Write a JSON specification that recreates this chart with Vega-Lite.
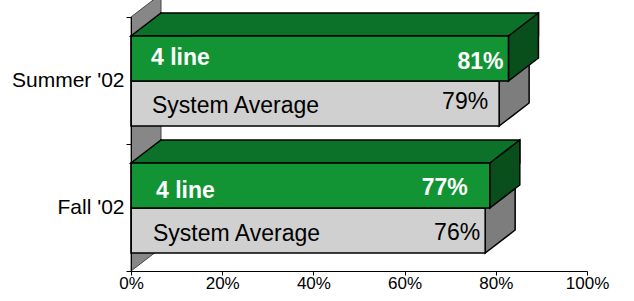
{
  "$schema": "https://vega.github.io/schema/vega-lite/v6.json",
  "width": 456,
  "height": 254,
  "autosize": {"type": "none"},
  "padding": {"left": 131, "top": 17, "right": 47, "bottom": 30},
  "background": "#ffffff",
  "config": {"view": {"stroke": null}, "font": "Liberation Sans"},
  "data": {"values": [
    {"period": "Summer '02", "series": "4 line", "value": 0.81},
    {"period": "Summer '02", "series": "System Average", "value": 0.79},
    {"period": "Fall '02", "series": "4 line", "value": 0.77},
    {"period": "Fall '02", "series": "System Average", "value": 0.76}
  ]},
  "encoding": {
    "y": {
      "field": "period", "type": "nominal",
      "scale": {"domain": ["Summer '02", "Fall '02"], "paddingInner": 0, "paddingOuter": 0},
      "axis": {"title": null, "tickBand": "extent", "tickSize": 5, "tickColor": "#000", "tickWidth": 1, "domainColor": "#000", "domainWidth": 1, "labelColor": "#000", "labelFontSize": 21, "labelPadding": 2, "labelFont": "Liberation Sans", "zindex": 1}
    }
  },
  "resolve": {"scale": {"x": "independent"}},
  "layer": [
    {
      "transform": [{"filter": {"and": [{"field": "period", "equal": "Fall '02"}, {"field": "series", "equal": "System Average"}]}}],
      "mark": {"type": "point", "shape": "M0,0 L0,-254 L30,-277 L30,-23 Z", "size": 4, "filled": true, "fill": "#878787", "stroke": "#444444", "strokeWidth": 1, "opacity": 1, "yOffset": 63.5},
      "encoding": {
        "x": {"datum": 0, "type": "quantitative", "scale": {"domain": [0, 1]},
          "axis": {"title": null, "format": ".0%", "values": [0, 0.2, 0.4, 0.6, 0.8, 1], "grid": false, "tickSize": 4, "tickColor": "#000", "domainColor": "#000", "labelColor": "#000", "labelFontSize": 17, "labelPadding": 0, "labelFont": "Liberation Sans", "labelFlush": false, "zindex": 1}}
      }
    },
    {
      "encoding": {"x": {"field": "value", "type": "quantitative", "scale": {"domain": [0, 1], "range": [0, 466]}, "axis": null}},
      "layer": [
        {
          "transform": [{"filter": {"field": "series", "equal": "System Average"}}],
          "mark": {"type": "point", "shape": "M0,0 L30,-23 L30,22 L0,45 Z", "size": 4, "filled": true, "fill": "#7d7d7d", "stroke": "#000", "strokeWidth": 1.5, "opacity": 1, "yOffset": 0.5}
        },
        {
          "transform": [{"filter": {"field": "series", "equal": "System Average"}}],
          "mark": {"type": "bar", "height": 45, "yOffset": 23, "fill": "#d0d0d0", "stroke": "#000", "strokeWidth": 1.5}
        },
        {
          "transform": [{"filter": {"field": "series", "equal": "4 line"}}],
          "mark": {"type": "bar", "height": 23, "yOffset": -56, "xOffset": 30, "x2Offset": 30, "fill": "#0d7229", "stroke": "#000", "strokeWidth": 1.5}
        },
        {
          "transform": [{"filter": {"field": "series", "equal": "4 line"}}],
          "mark": {"type": "point", "shape": "M31,0 L0,0 L30,-23 L31,-23", "size": 4, "filled": true, "fill": "#0d7229", "stroke": "#000", "strokeWidth": 1.5, "opacity": 1, "yOffset": -44.5},
          "encoding": {"x": {"datum": 0, "type": "quantitative"}}
        },
        {
          "transform": [{"filter": {"field": "series", "equal": "4 line"}}],
          "mark": {"type": "point", "shape": "M0,0 L30,-23 L30,22 L0,45 Z", "size": 4, "filled": true, "fill": "#094f1b", "stroke": "#000", "strokeWidth": 1.5, "opacity": 1, "yOffset": -44.5}
        },
        {
          "transform": [{"filter": {"field": "series", "equal": "4 line"}}],
          "mark": {"type": "bar", "height": 45, "yOffset": -22, "fill": "#129434", "stroke": "#000", "strokeWidth": 1.5}
        },
        {
          "transform": [{"filter": {"and": [{"field": "period", "equal": "Summer '02"}, {"field": "series", "equal": "4 line"}]}}],
          "mark": {"type": "text", "align": "left", "baseline": "middle", "dx": 20, "dy": -23, "fontSize": 23, "fontWeight": "bold", "fill": "#ffffff"},
          "encoding": {"x": {"datum": 0, "type": "quantitative"}, "text": {"field": "series"}}
        },
        {
          "transform": [{"filter": {"and": [{"field": "period", "equal": "Summer '02"}, {"field": "series", "equal": "4 line"}]}}],
          "mark": {"type": "text", "align": "right", "baseline": "middle", "dx": -5, "dy": -19, "fontSize": 23, "fontWeight": "bold", "fill": "#ffffff"},
          "encoding": {"text": {"field": "value", "type": "quantitative", "format": ".0%"}}
        },
        {
          "transform": [{"filter": {"and": [{"field": "period", "equal": "Summer '02"}, {"field": "series", "equal": "System Average"}]}}],
          "mark": {"type": "text", "align": "left", "baseline": "middle", "dx": 21, "dy": 25.5, "fontSize": 23, "fill": "#000000"},
          "encoding": {"x": {"datum": 0, "type": "quantitative"}, "text": {"field": "series"}}
        },
        {
          "transform": [{"filter": {"and": [{"field": "period", "equal": "Summer '02"}, {"field": "series", "equal": "System Average"}]}}],
          "mark": {"type": "text", "align": "right", "baseline": "middle", "dx": -11, "dy": 21.5, "fontSize": 23, "fill": "#000000"},
          "encoding": {"text": {"field": "value", "type": "quantitative", "format": ".0%"}}
        },
        {
          "transform": [{"filter": {"and": [{"field": "period", "equal": "Fall '02"}, {"field": "series", "equal": "4 line"}]}}],
          "mark": {"type": "text", "align": "left", "baseline": "middle", "dx": 25, "dy": -16.5, "fontSize": 23, "fontWeight": "bold", "fill": "#ffffff"},
          "encoding": {"x": {"datum": 0, "type": "quantitative"}, "text": {"field": "series"}}
        },
        {
          "transform": [{"filter": {"and": [{"field": "period", "equal": "Fall '02"}, {"field": "series", "equal": "4 line"}]}}],
          "mark": {"type": "text", "align": "right", "baseline": "middle", "dx": -22, "dy": -19.5, "fontSize": 23, "fontWeight": "bold", "fill": "#ffffff"},
          "encoding": {"text": {"field": "value", "type": "quantitative", "format": ".0%"}}
        },
        {
          "transform": [{"filter": {"and": [{"field": "period", "equal": "Fall '02"}, {"field": "series", "equal": "System Average"}]}}],
          "mark": {"type": "text", "align": "left", "baseline": "middle", "dx": 22, "dy": 26, "fontSize": 23, "fill": "#000000"},
          "encoding": {"x": {"datum": 0, "type": "quantitative"}, "text": {"field": "series"}}
        },
        {
          "transform": [{"filter": {"and": [{"field": "period", "equal": "Fall '02"}, {"field": "series", "equal": "System Average"}]}}],
          "mark": {"type": "text", "align": "right", "baseline": "middle", "dx": -5, "dy": 25.5, "fontSize": 23, "fill": "#000000"},
          "encoding": {"text": {"field": "value", "type": "quantitative", "format": ".0%"}}
        }
      ]
    }
  ]
}
